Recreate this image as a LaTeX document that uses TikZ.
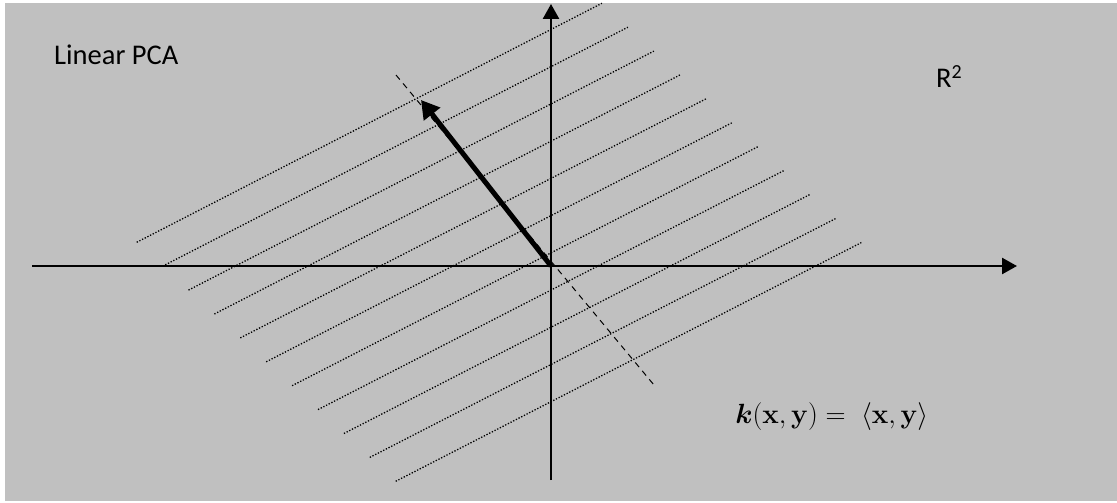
\documentclass[tikz,border=0pt]{standalone}
\usepackage[no-math]{fontspec}
\setmainfont{Carlito}
\usepackage{amsmath}
\usetikzlibrary{arrows.meta}
\definecolor{panelgray}{RGB}{192,192,192}

\begin{document}
\begin{tikzpicture}[
    x=1pt, y=-1pt,
    axis/.style={line width=2.5pt, -{Triangle[length=15pt, width=16pt]}},
    dotline/.style={line width=1.3pt, dash pattern=on 1.3pt off 1.7pt},
    pcline/.style={line width=1pt, dash pattern=on 6pt off 5pt},
    txt/.style={anchor=base west, inner sep=0pt, font=\fontsize{28.5}{32}\selectfont}
]
    \useasboundingbox (0,0) rectangle (1117,503);
    \fill[panelgray] (5,3) rectangle (1117,501);

    % level lines
    \foreach \i in {0,...,10}
        \draw[dotline] (136.7+25.9*\i, 242.3+23.9*\i) -- (601.9+26*\i, 3.3+23.9*\i);

    \coordinate (O) at (551,266);
    \coordinate (xend) at (1017,266);
    \coordinate (xstart) at (32,266);
    \coordinate (ytop) at (551,4);
    \coordinate (ybot) at (551,480);
    \coordinate (pctop) at (396,75);
    \coordinate (pcbot) at (654,385);
    \coordinate (pc) at (421,100);

    \draw[pcline] (pctop) -- (pcbot);
    \draw[axis] (xstart) -- (xend);
    \draw[axis] (ybot) -- (ytop);
    \draw[line width=5pt, -{Triangle[length=18pt, width=20pt]}] (O) -- (pc);

    \node[txt] (title) at (54,65) {Linear PCA};
    \node[txt] (space) at (936,88) {R\textsuperscript{2}};
    \node[txt, font=\huge, scale=1.34, transform shape] (kernel) at (735,423)
        {$\boldsymbol{k}(\mathbf{x},\mathbf{y}) =\;\langle\mathbf{x},\mathbf{y}\rangle$};
\end{tikzpicture}
\end{document}
